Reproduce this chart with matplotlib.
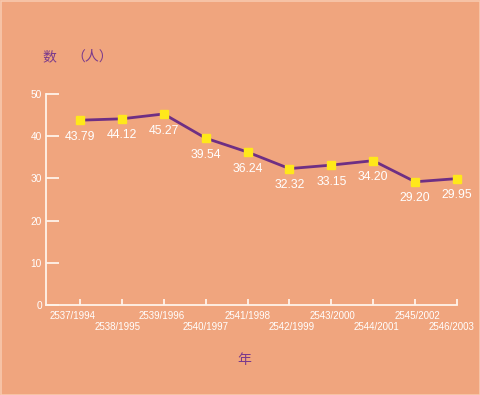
import matplotlib
matplotlib.use("Agg")
import matplotlib.pyplot as plt
import matplotlib.transforms as mtransforms
from matplotlib.patches import Rectangle

years = ["2537/1994", "2538/1995", "2539/1996", "2540/1997", "2541/1998",
         "2542/1999", "2543/2000", "2544/2001", "2545/2002", "2546/2003"]
values = [43.79, 44.12, 45.27, 39.54, 36.24, 32.32, 33.15, 34.20, 29.20, 29.95]
yticks = [0, 10, 20, 30, 40, 50]

BG = "#F0A57E"
AX = "#FFF3EA"
PURPLE = "#6E2F84"
TXT_PURPLE = "#7A3A8C"
YELLOW = "#FFE81A"

plt.rcParams['font.family'] = ['Liberation Sans', 'DejaVu Sans']

W, H = 481, 395
fig = plt.figure(figsize=(W / 100, H / 100), dpi=100, facecolor=BG)
ax = fig.add_axes([46 / W, (H - 305) / H, (457 - 46) / W, (305 - 94) / H])
ax.set_facecolor(BG)

x = list(range(len(values)))
ax.plot(x, values, color=PURPLE, lw=2.0, zorder=3, clip_on=False)
ax.plot(x, values, ls="none", marker="s", ms=5.3, mfc=YELLOW, mec=YELLOW,
        zorder=4, clip_on=False)
for xi, v in zip(x, values):
    ax.annotate(f"{v:.2f}", (xi, v), xytext=(0, -12), textcoords="offset points",
                ha="center", va="center", color="white", fontsize=8.8)

ax.set_xlim(-0.81, 9)
ax.set_ylim(0, 50)
ax.set_yticks(yticks)
ax.set_yticklabels([str(t) for t in yticks])
ax.set_xticks(x)
ax.set_xticklabels(years)

for s in ["top", "right"]:
    ax.spines[s].set_visible(False)
for s in ["left", "bottom"]:
    ax.spines[s].set_color(AX)
    ax.spines[s].set_linewidth(1.3)

ax.tick_params(axis="y", direction="in", length=9, width=1.3, color=AX,
               labelcolor="white", labelsize=7.3, pad=3)
ax.tick_params(axis="x", direction="in", length=4.5, width=1.3, color=AX,
               labelcolor="white", labelsize=7, pad=4)

# staggered rows and small horizontal shifts of tick labels as in the reference
shifts_px = [-7, -4, -2, 0, 0, 2, 1, 3, 2, -5]
for i, (lab, dx) in enumerate(zip(ax.get_xticklabels(), shifts_px)):
    dy = 0 if i % 2 == 0 else -11
    lab.set_transform(lab.get_transform() +
                      mtransforms.ScaledTranslation(dx / 100, dy / 100, fig.dpi_scale_trans))

fig.text(42 / W, 1 - 57 / H, "数", fontsize=10, color=TXT_PURPLE,
         family=['Noto Sans CJK SC', 'DejaVu Sans'], ha="left", va="center")
fig.text(71 / W, 1 - 57 / H, "（人）", fontsize=10, color=TXT_PURPLE,
         family=['Noto Sans CJK SC', 'DejaVu Sans'], ha="left", va="center")
fig.text(244 / W, 1 - 360 / H, "年", fontsize=10, color=TXT_PURPLE,
         family=['Noto Sans CJK SC', 'DejaVu Sans'], ha="center", va="center")

fig.patches.append(Rectangle((0.5 / W, 0.5 / H), 1 - 1.5 / W, 1 - 1.5 / H,
                             transform=fig.transFigure, fill=False,
                             edgecolor="#F8C9AE", lw=1.2))

fig.savefig("out.png", dpi=100, facecolor=BG)
